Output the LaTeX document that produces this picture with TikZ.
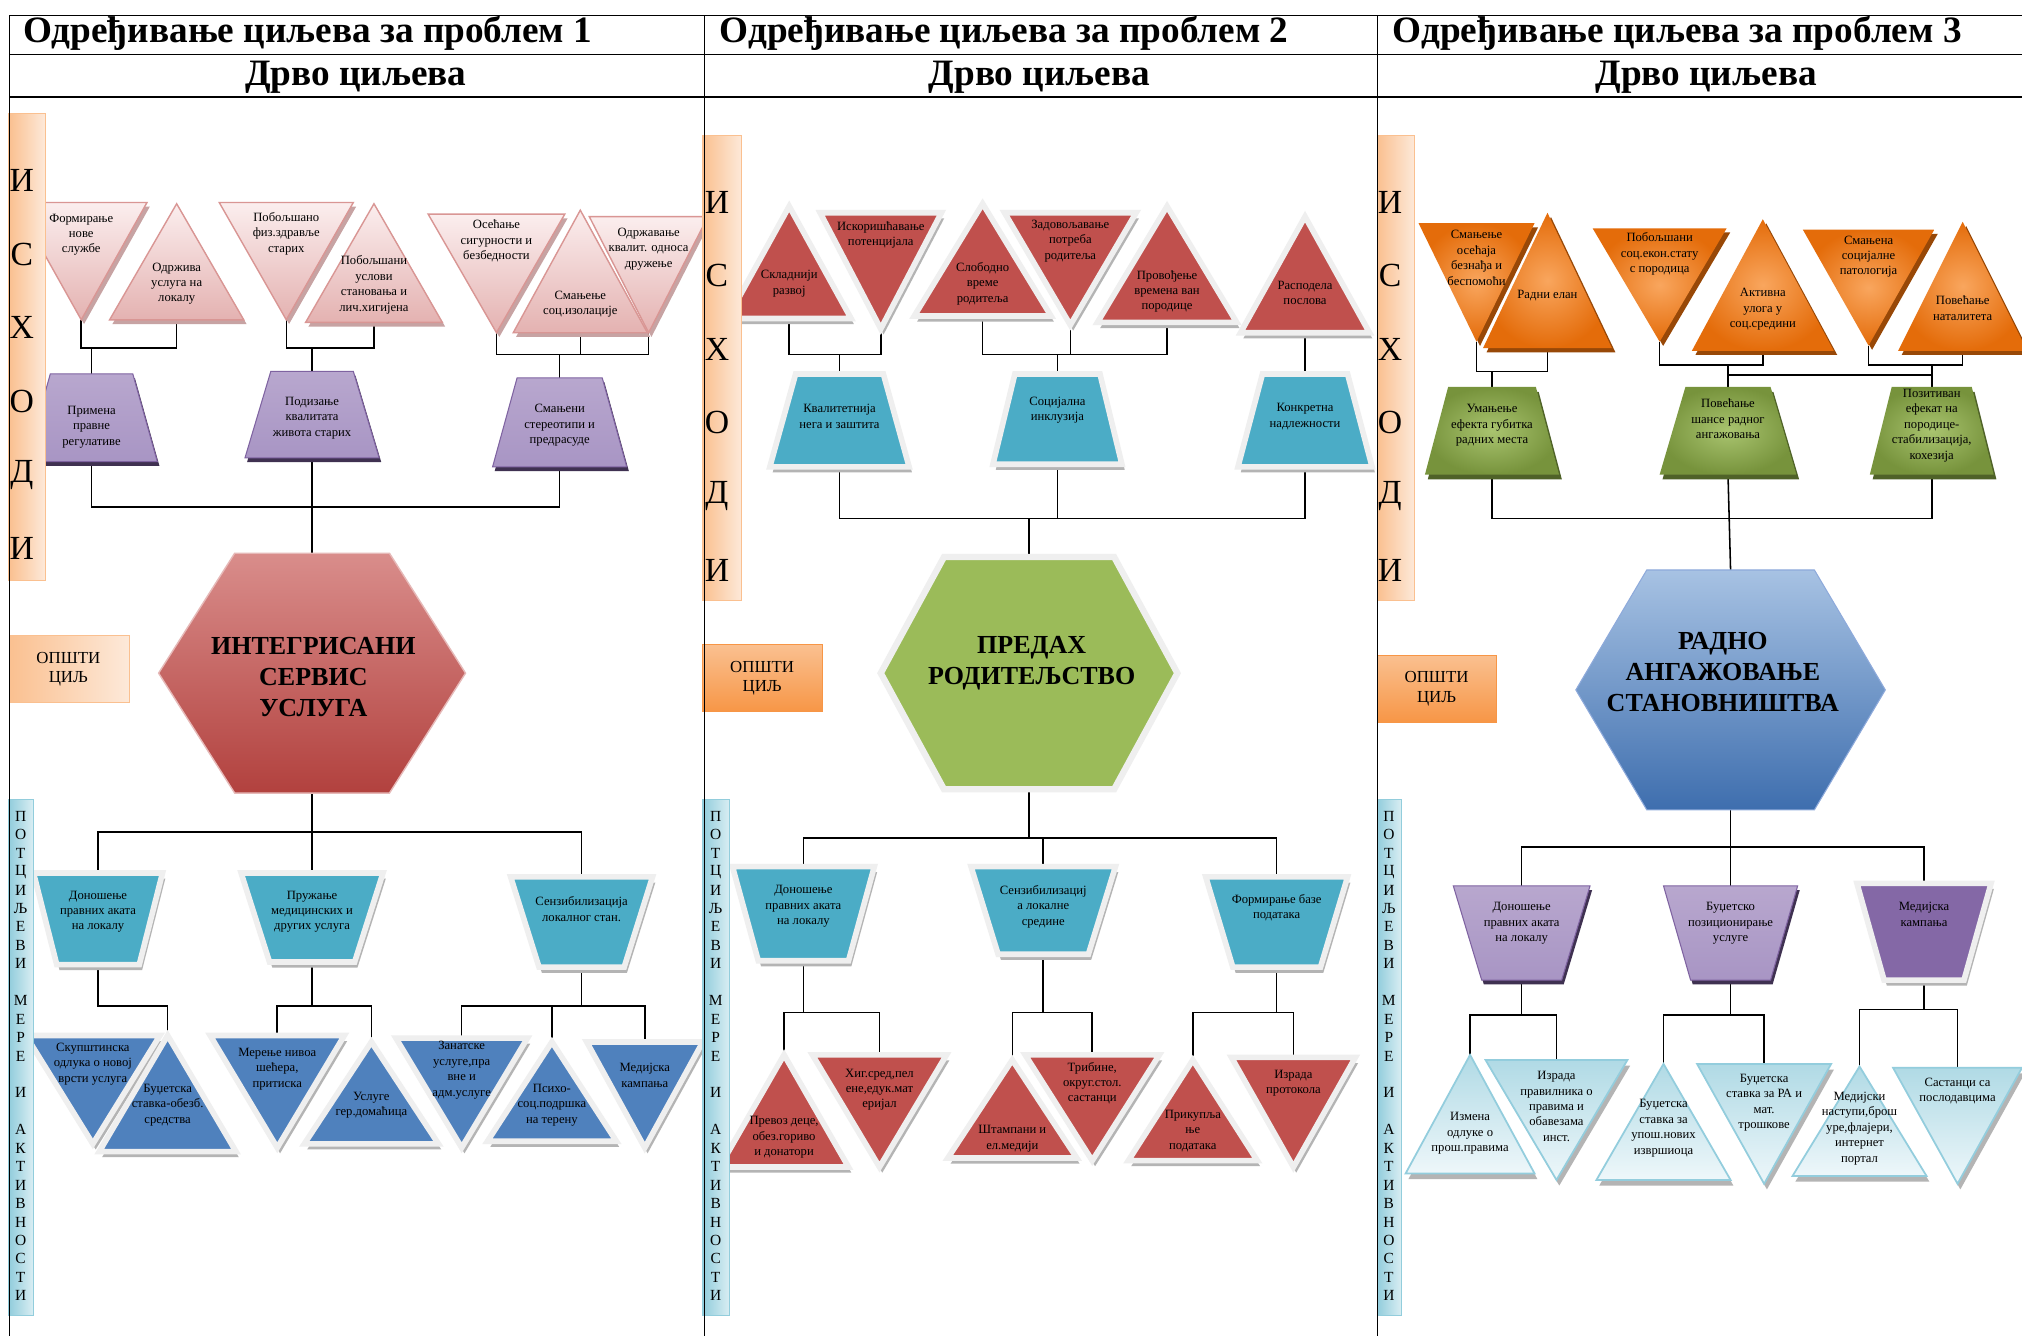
\documentclass[tikz,border=0pt]{standalone}
\usepackage{fontspec}
\setmainfont{Liberation Serif}
\usetikzlibrary{calc}

\definecolor{pinkedge}{HTML}{D99694}
\definecolor{pinktop}{HTML}{FBEEEE}
\definecolor{pinkbot}{HTML}{E4B2B1}
\definecolor{pinkshadow}{HTML}{C7A3A3}
\definecolor{purpedge}{HTML}{7F63A1}
\definecolor{purptop}{HTML}{B8A7CE}
\definecolor{purpmid}{HTML}{8468A6}
\definecolor{purpbot}{HTML}{A895C4}
\definecolor{purpshadow}{HTML}{3F3151}
\definecolor{rim}{HTML}{EFEFEF}
\definecolor{rimshadow}{HTML}{B4B4B4}
\definecolor{tealfill}{HTML}{4BACC6}
\definecolor{bluefill}{HTML}{4F81BD}
\definecolor{redfill}{HTML}{C0504D}
\definecolor{oinner}{HTML}{F9A65E}
\definecolor{oouter}{HTML}{E46C0A}
\definecolor{oshadow}{HTML}{984807}
\definecolor{ginner}{HTML}{A9C46F}
\definecolor{gouter}{HTML}{77933C}
\definecolor{gshadow}{HTML}{4F6228}
\definecolor{lbtop}{HTML}{B0DAE5}
\definecolor{lbbot}{HTML}{EEF7FA}
\definecolor{lbedge}{HTML}{93CDDD}
\definecolor{hredtop}{HTML}{D98D8B}
\definecolor{hredbot}{HTML}{B2413E}
\definecolor{hredge}{HTML}{E6B9B8}
\definecolor{hbluetop}{HTML}{A7C2E3}
\definecolor{hbluebot}{HTML}{3E6EAE}
\definecolor{hblueedge}{HTML}{8EAADB}
\definecolor{hgreen}{HTML}{9BBB59}
\definecolor{peach}{HTML}{FDE9D9}
\definecolor{peachdark}{HTML}{FAC090}
\definecolor{orangebox}{HTML}{F79646}
\definecolor{barblue}{HTML}{DAEEF3}
\definecolor{barbluedark}{HTML}{92CDDC}

\pgfdeclarelayer{bg}
\pgfsetlayers{bg,main}

\tikzset{
    lbl/.style={align=center, inner sep=0pt, font=\fontsize{18}{22}\selectfont},
    hexlbl/.style={align=center, inner sep=0pt, font=\bfseries\fontsize{37}{44}\selectfont},
    ttl/.style={inner sep=0pt, font=\bfseries\fontsize{53}{58}\selectfont},
    sidelbl/.style={inner sep=0pt, font=\fontsize{48}{50}\selectfont},
    barlbl/.style={inner sep=0pt, font=\fontsize{22}{24}\selectfont},
    goallbl/.style={align=center, inner sep=0pt, font=\fontsize{24}{28}\selectfont},
    conn/.style={line width=2.2pt, black},
    rule/.style={line width=2.5pt, black},
    thinrule/.style={line width=1pt, black},
    greyshade/.style={preaction={fill=rimshadow, transform canvas={xshift=4pt, yshift=-8pt}}},
    pinktri/.style={draw=pinkedge, line width=2pt, top color=pinktop, bottom color=pinkbot,
        preaction={fill=pinkshadow, transform canvas={xshift=4pt, yshift=-6pt}}},
    redtri/.style={greyshade, draw=rim, line width=8pt, line join=miter, fill=redfill},
    bluetri/.style={greyshade, draw=rim, line width=8pt, line join=miter, fill=bluefill},
    tealbox/.style={greyshade, draw=rim, line width=8pt, line join=miter, fill=tealfill},
    purptrap/.style={draw=purpedge, line width=1.5pt, top color=purptop, middle color=purpmid, bottom color=purpbot,
        preaction={fill=purpshadow, transform canvas={xshift=3pt, yshift=-6pt}}},
    purpflat/.style={greyshade, draw=rim, line width=8pt, fill=purpmid},
    orangetri/.style={inner color=oinner, outer color=oouter,
        preaction={fill=oshadow, transform canvas={xshift=5pt, yshift=-6pt}}},
    greentrap/.style={inner color=ginner, outer color=gouter,
        preaction={fill=gshadow, transform canvas={xshift=4pt, yshift=-7pt}}},
    lbtri/.style={greyshade, draw=lbedge, line width=2.5pt, top color=lbtop, bottom color=lbbot},
    outbar/.style={left color=peachdark, right color=peach, draw=peachdark, line width=1.5pt},
    potbar/.style={left color=barbluedark, right color=barblue, draw=barbluedark, line width=1.5pt},
}

% triangle: name, x, apex y, base y, half base, style, text y, text
\newcommand{\tri}[8]{%
    \path[#6] ({#2-#5},#4) -- ({#2+#5},#4) -- (#2,#3) -- cycle;
    \coordinate (#1a) at (#2,#3);
    \coordinate (#1b) at (#2,#4);
    \node[lbl] (#1l) at (#2,#7) {#8};
}
% trapezoid: name, x, top y, bottom y, half top, half bottom, style, text y, text
\newcommand{\trap}[9]{%
    \path[#7] ({#2-#5},#3) -- ({#2+#5},#3) -- ({#2+#6},#4) -- ({#2-#6},#4) -- cycle;
    \coordinate (#1n) at (#2,#3);
    \coordinate (#1s) at (#2,#4);
    \node[lbl] (#1l) at (#2,#8) {#9};
}
% hexagon: name, x, y, half width, half flat side, half height, style
\newcommand{\hexa}[7]{%
    \path[#7] ({#2-#4},#3) -- ({#2-#5},{#3-#6}) -- ({#2+#5},{#3-#6}) -- ({#2+#4},#3)
        -- ({#2+#5},{#3+#6}) -- ({#2-#5},{#3+#6}) -- cycle;
    \coordinate (#1n) at (#2,{#3-#6});
    \coordinate (#1s) at (#2,{#3+#6});
}

\begin{document}
\begin{tikzpicture}[x=0.0645cm, y=-0.0645cm]
    \useasboundingbox (0,0) rectangle (1568,1036);
    \begin{pgfonlayer}{bg}
    \fill[white] (0,0) rectangle (1568,1036);
    \end{pgfonlayer}

    %% problem 1
    \tri{t1}{63}{248}{157}{51}{pinktri}{182}{Формирање\\нове\\службе}
    \tri{t2}{137}{158}{248}{52}{pinktri}{220}{Одржива\\услуга на\\локалу}
    \tri{t3}{222}{248}{157}{52}{pinktri}{181}{Побољшано\\физ.здравље\\старих}
    \tri{t4}{290}{158}{250}{53}{pinktri}{221}{Побољшани\\услови\\становања и\\лич.хигијена}
    \tri{t5}{385}{258}{166}{53}{pinktri}{187}{Осећање\\сигурности и\\безбедности}
    \tri{t6}{450}{163}{258}{52}{pinktri}{236}{Смањење\\соц.изолације}
    \tri{t7}{503}{258}{168}{46}{pinktri}{193}{Одржавање\\квалит. односа\\дружење}

    \trap{p1}{71}{290}{358}{32}{51}{purptrap}{331}{Примена\\правне\\регулативе}
    \trap{p2}{242}{288}{355}{32}{52}{purptrap}{324}{Подизање\\квалитата\\живота старих}
    \trap{p3}{434}{293}{362}{33}{52}{purptrap}{330}{Смањени\\стереотипи и\\предрасуде}

    \hexa{h1}{242}{522}{119}{60}{93}{top color=hredtop, bottom color=hredbot, draw=hredge, line width=2pt}
    \node[hexlbl] (h1l) at (243,525) {ИНТЕГРИСАНИ\\СЕРВИС\\УСЛУГА};

    \trap{q1}{76}{677}{748}{50}{32}{tealbox}{707}{Доношење\\правних аката\\на локалу}
    \trap{q2}{242}{677}{746}{55}{33}{tealbox}{707}{Пружање\\медицинских и\\других услуга}
    \trap{q3}{451}{680}{750}{55}{33}{tealbox}{705}{Сензибилизација\\локалног стан.}

    \tri{r1}{72}{887}{803}{52}{bluetri}{825}{Скупштинска\\одлука о новој\\врсти услуга}
    \tri{r2}{130}{803}{893}{53}{bluetri}{857}{Буџетска\\ставка-обезб.\\средства}
    \tri{r3}{215}{890}{803}{52}{bluetri}{829}{Мерење нивоа\\шећера,\\притиска}
    \tri{r4}{288}{808}{887}{52}{bluetri}{857}{Услуге\\гер.домаћица}
    \tri{r5}{358}{890}{805}{51}{bluetri}{830}{Занатске\\услуге,пра\\вне и\\адм.услуге}
    \tri{r6}{428}{808}{885}{50}{bluetri}{857}{Психо-\\соц.подршка\\на терену}
    \tri{r7}{500}{890}{808}{45}{bluetri}{834}{Медијска\\кампања}

    %% problem 2
    \tri{u1}{612}{160}{247}{48}{redtri}{220}{Складнији\\развој}
    \tri{u2}{683}{255}{165}{47}{redtri}{182}{Искоришћавање\\потенцијала}
    \tri{u3}{762}{158}{245}{53}{redtri}{220}{Слободно\\време\\родитеља}
    \tri{u4}{830}{252}{165}{51}{redtri}{187}{Задовољавање\\потреба\\родитеља}
    \tri{u5}{905}{160}{250}{54}{redtri}{226}{Провођење\\времена ван\\породице}
    \tri{u6}{1012}{168}{258}{50}{redtri}{227}{Расподела\\послова}

    \trap{v1}{651}{290}{362}{34}{54}{tealbox}{323}{Квалитетнија\\нега и заштита}
    \trap{v2}{820}{290}{360}{33}{50}{tealbox}{318}{Социјална\\инклузија}
    \trap{v3}{1012}{290}{362}{33}{52}{tealbox}{323}{Конкретна\\надлежности}

    \hexa{h2}{798}{522}{115}{66}{90}{fill=hgreen, draw=rim, line width=9pt}
    \node[hexlbl] (h2l) at (800,514) {ПРЕДАХ\\РОДИТЕЉСТВО};

    \trap{w1}{623}{672}{745}{55}{35}{tealbox}{703}{Доношење\\правних аката\\на локалу}
    \trap{w2}{809}{672}{740}{56}{35}{tealbox}{703}{Сензибилизациј\\а локалне\\средине}
    \trap{w3}{990}{680}{750}{55}{34}{tealbox}{704}{Формирање базе\\података}

    \tri{x1}{608}{818}{905}{50}{redtri}{882}{Превоз деце,\\обез.гориво\\и донатори}
    \tri{x2}{682}{905}{818}{52}{redtri}{845}{Хиг.сред,пел\\ене,едук.мат\\еријал}
    \tri{x3}{785}{822}{898}{50}{redtri}{883}{Штампани и\\ел.медији}
    \tri{x4}{847}{900}{818}{52}{redtri}{840}{Трибине,\\округ.стол.\\састанци}
    \tri{x5}{925}{822}{900}{50}{redtri}{877}{Прикупља\\ње\\података}
    \tri{x6}{1003}{905}{820}{48}{redtri}{840}{Израда\\протокола}

    %% problem 3
    \tri{y1}{1145}{265}{173}{45}{orangetri}{200}{Смањење\\осећаја\\безнађа и\\беспомоћи}
    \tri{y2}{1200}{165}{270}{50}{orangetri}{229}{Радни елан}
    \tri{y3}{1287}{265}{177}{52}{orangetri}{197}{Побољшани\\соц.екон.стату\\с породица}
    \tri{y4}{1367}{170}{272}{55}{orangetri}{240}{Активна\\улога у\\соц.средини}
    \tri{y5}{1449}{268}{178}{51}{orangetri}{199}{Смањена\\социјалне\\патологија}
    \tri{y6}{1522}{172}{272}{50}{orangetri}{239}{Повећање\\наталитета}

    \trap{z1}{1157}{300}{368}{34}{52}{greentrap}{330}{Умањење\\ефекта губитка\\радних места}
    \trap{z2}{1340}{300}{368}{33}{53}{greentrap}{325}{Повећање\\шансе радног\\ангажовања}
    \trap{z3}{1498}{300}{368}{31}{48}{greentrap}{330}{Позитиван\\ефекат на\\породице-\\стабилизација,\\кохезија}

    \hexa{h3}{1342}{535}{120}{65}{93}{top color=hbluetop, bottom color=hbluebot, draw=hblueedge, line width=1.5pt}
    \node[hexlbl] (h3l) at (1336,521) {РАДНО\\АНГАЖОВАЊЕ\\СТАНОВНИШТВА};

    \trap{aa1}{1180}{687}{760}{53}{31}{purptrap}{716}{Доношење\\правних аката\\на локалу}
    \trap{aa2}{1342}{687}{760}{52}{31}{purptrap}{716}{Буџетско\\позиционирање\\услуге}
    \trap{aa3}{1492}{685}{760}{52}{31}{purpflat}{709}{Медијска\\кампања}

    \tri{bb1}{1140}{818}{910}{50}{lbtri}{879}{Измена\\одлуке о\\прош.правима}
    \tri{bb2}{1207}{915}{822}{55}{lbtri}{858}{Израда\\правилника о\\правима и\\обавезама\\инст.}
    \tri{bb3}{1290}{825}{915}{52}{lbtri}{875}{Буџетска\\ставка за\\упош.нових\\извршиоца}
    \tri{bb4}{1368}{918}{825}{52}{lbtri}{855}{Буџетска\\ставка за РА и\\мат.\\трошкове}
    \tri{bb5}{1442}{827}{912}{52}{lbtri}{875}{Медијски\\наступи,брош\\уре,флајери,\\интернет\\портал}
    \tri{bb6}{1518}{918}{828}{50}{lbtri}{846}{Састанци са\\послодавцима}

    %% junctions
    \coordinate (j1) at (71,270);
    \coordinate (j2) at (242,270);
    \coordinate (j3) at (434,275);
    \coordinate (j4) at (242,393);
    \coordinate (j5) at (242,645);
    \coordinate (j6) at (76,780);
    \coordinate (j7) at (242,780);
    \coordinate (j8) at (451,780);
    \coordinate (j9) at (651,275);
    \coordinate (j10) at (820,275);
    \coordinate (j11) at (798,402);
    \coordinate (j12) at (798,650);
    \coordinate (j13) at (623,785);
    \coordinate (j14) at (809,785);
    \coordinate (j15) at (990,785);
    \coordinate (j16) at (1157,288);
    \coordinate (j17) at (1340,283);
    \coordinate (j18) at (1498,283);
    \coordinate (j19) at (1420,291);
    \coordinate (j20) at (1342,402);
    \coordinate (j21) at (1342,657);
    \coordinate (j22) at (1180,787);
    \coordinate (j23) at (1342,787);
    \coordinate (j24) at (1492,783);

    \begin{pgfonlayer}{bg}
    \draw[conn] (t1a) |- (j1) -| (t2b);
    \draw[conn] (j1) -- (p1n);
    \draw[conn] (t3a) |- (j2) -| (t4b);
    \draw[conn] (j2) -- (p2n);
    \draw[conn] (t5a) |- (j3) -| (t7a);
    \draw[conn] (t6b) -- (t6b |- j3);
    \draw[conn] (j3) -- (p3n);
    \draw[conn] (p1s) |- (j4) -| (p3s);
    \draw[conn] (p2s) -- (h1n);
    \draw[conn] (h1s) -- (q2n);
    \draw[conn] (q1n) |- (j5) -| (q3n);
    \draw[conn] (q1s) -- (j6) -| (r2a);
    \draw[conn] (q2s) -- (j7);
    \draw[conn] (r3b) |- (j7) -| (r4a);
    \draw[conn] (q3s) -- (j8);
    \draw[conn] (r5b) |- (j8) -| (r7b);
    \draw[conn] (r6a) -- (r6a |- j8);

    \draw[conn] (u1b) |- (j9) -| (u2a);
    \draw[conn] (j9) -- (v1n);
    \draw[conn] (u3b) |- (j10) -| (u5b);
    \draw[conn] (u4a) -- (u4a |- j10);
    \draw[conn] (j10) -- (v2n);
    \draw[conn] (u6b) -- (v3n);
    \draw[conn] (v1s) |- (j11) -| (v3s);
    \draw[conn] (v2s) -- (v2s |- j11);
    \draw[conn] (j11) -- (h2n);
    \draw[conn] (h2s) -- (j12);
    \draw[conn] (w1n) |- (j12) -| (w3n);
    \draw[conn] (w2n) -- (w2n |- j12);
    \draw[conn] (w1s) -- (j13);
    \draw[conn] (x1a) |- (j13) -| (x2b);
    \draw[conn] (w2s) -- (j14);
    \draw[conn] (x3a) |- (j14) -| (x4b);
    \draw[conn] (w3s) -- (j15);
    \draw[conn] (x5a) |- (j15) -| (x6b);

    \draw[conn] (y1a) |- (j16) -| (y2b);
    \draw[conn] (j16) -- (z1n);
    \draw[conn] (y3a) |- (j17) -| (y4b);
    \draw[conn] (y5a) |- (j18) -| (y6b);
    \draw[conn] (j17) -- (z2n);
    \draw[conn] (j18) -- (z3n);
    \draw[conn] (z2n) |- (j19) -| (z3n);
    \draw[conn] (z1s) |- (j20) -| (z3s);
    \draw[conn] (z2s) -- (h3n);
    \draw[conn] (h3s) -- (aa2n);
    \draw[conn] (aa1n) |- (j21) -| (aa3n);
    \draw[conn] (aa1s) -- (j22);
    \draw[conn] (bb1a) |- (j22) -| (bb2b);
    \draw[conn] (aa2s) -- (j23);
    \draw[conn] (bb3a) |- (j23) -| (bb4b);
    \draw[conn] (aa3s) -- (j24);
    \draw[conn] (bb5a) |- (j24) -| (bb6b);
    \end{pgfonlayer}

    %% side bars
    \path[outbar] (7,88) rectangle (35,450);
    \path[outbar] (545,105) rectangle (575,466);
    \path[outbar] (1068,105) rectangle (1097,466);
    \foreach \ch [count=\i from 0] in {И,С,Х,О,Д,И} {
        \node[sidelbl] (isa\i) at (17,{140+57*\i}) {\ch};
        \node[sidelbl] (isb\i) at (556,{157+57*\i}) {\ch};
        \node[sidelbl] (isc\i) at (1078,{157+57*\i}) {\ch};
    }
    \path[potbar] (7,620) rectangle (26,1020);
    \path[potbar] (545,620) rectangle (566,1020);
    \path[potbar] (1068,620) rectangle (1087,1020);
    \foreach \ch/\k in {П/0,О/1,Т/2,Ц/3,И/4,Љ/5,Е/6,В/7,И/8,М/10,Е/11,Р/12,Е/13,И/15,
        А/17,К/18,Т/19,И/20,В/21,Н/22,О/23,С/24,Т/25,И/26} {
        \node[barlbl] (pa\k) at (16,{633+14.3*\k}) {\ch};
        \node[barlbl] (pb\k) at (555,{633+14.3*\k}) {\ch};
        \node[barlbl] (pc\k) at (1077,{633+14.3*\k}) {\ch};
    }

    %% goal boxes
    \path[left color=peachdark, right color=peach, draw=peachdark, line width=1pt] (7,493) rectangle (100,545);
    \node[goallbl] (g1) at (53,519) {ОПШТИ\\ЦИЉ};
    \path[top color=peachdark, bottom color=orangebox, draw=orangebox, line width=1pt] (545,500) rectangle (638,552);
    \node[goallbl] (g2) at (591,526) {ОПШТИ\\ЦИЉ};
    \path[top color=peachdark, bottom color=orangebox, draw=orangebox, line width=1pt] (1068,508) rectangle (1160,560);
    \node[goallbl] (g3) at (1114,534) {ОПШТИ\\ЦИЉ};

    %% table
    \fill[white] (0,0) rectangle (1568,75);
    \draw[rule] (7,12) -- (1568,12);
    \draw[thinrule] (7,42) -- (1568,42);
    \draw[rule] (7,75) -- (1568,75);
    \foreach \cx in {7,546,1068} \draw[thinrule] (\cx,12) -- (\cx,1036);
    \node[ttl, anchor=west] (ttl1) at (18,26) {Одређивање циљева за проблем 1};
    \node[ttl, anchor=west] (ttl2) at (558,26) {Одређивање циљева за проблем 2};
    \node[ttl, anchor=west] (ttl3) at (1080,26) {Одређивање циљева за проблем 3};
    \node[ttl] (tree1) at (276,60) {Дрво циљева};
    \node[ttl] (tree2) at (806,60) {Дрво циљева};
    \node[ttl] (tree3) at (1323,60) {Дрво циљева};
\end{tikzpicture}
\end{document}
